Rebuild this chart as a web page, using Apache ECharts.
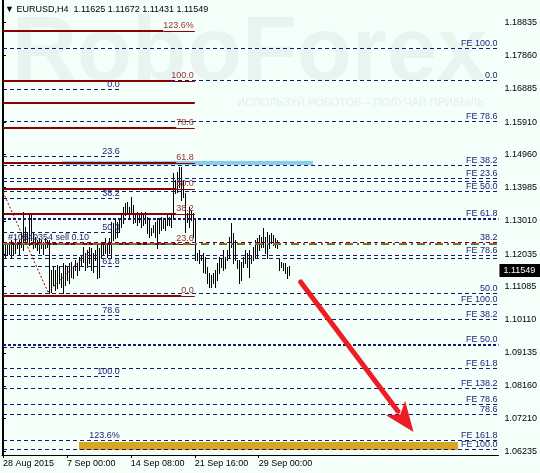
<!DOCTYPE html>
<html><head><meta charset="utf-8">
<script src="https://cdn.jsdelivr.net/npm/echarts@6/dist/echarts.min.js"></script>
<style>html,body{margin:0;padding:0;background:#F5FFFA;}#c{width:540px;height:473px;}</style>
</head><body><div id="c"></div>
<script>
// ---------------- data ----------------
const headerText = '\u25BC EURUSD,H4  1.11625 1.11672 1.11431 1.11549';
const lastClose = 1.11549;
const barHigh = [
1.1230,1.1236,1.1236,1.1239,1.1245,1.1236,1.1251,1.1239,1.1245,1.1268,
1.1327,1.1283,1.1268,1.1318,1.1324,1.1268,1.1253,1.1245,1.1251,1.1245,
1.1239,1.1251,1.1245,1.1245,1.1157,1.1165,1.1157,1.1171,1.1165,1.1148,
1.1177,1.1171,1.1165,1.1177,1.1180,1.1165,1.1186,1.1177,1.1195,1.1201,
1.1224,1.1207,1.1215,1.1224,1.1221,1.1207,1.1215,1.1230,1.1221,1.1230,
1.1239,1.1251,1.1236,1.1251,1.1298,1.1295,1.1304,1.1298,1.1309,1.1324,
1.1342,1.1354,1.1357,1.1342,1.1371,1.1348,1.1324,1.1327,1.1324,1.1327,
1.1318,1.1327,1.1312,1.1304,1.1280,1.1289,1.1298,1.1309,1.1304,1.1312,
1.1309,1.1304,1.1318,1.1312,1.1324,1.1442,1.1421,1.1444,1.1459,1.1459,
1.1421,1.1383,1.1324,1.1342,1.1333,1.1324,1.1304,1.1207,1.1215,1.1201,
1.1207,1.1195,1.1165,1.1148,1.1142,1.1148,1.1157,1.1177,1.1195,1.1192,
1.1215,1.1195,1.1215,1.1253,1.1295,1.1265,1.1245,1.1186,1.1186,1.1180,
1.1195,1.1215,1.1207,1.1215,1.1201,1.1224,1.1245,1.1251,1.1259,1.1253,
1.1280,1.1253,1.1268,1.1259,1.1265,1.1259,1.1251,1.1245,1.1192,1.1180,
1.1177,1.1177,1.1165,1.1167];
const barLow = [
1.1157,1.1192,1.1201,1.1204,1.1195,1.1204,1.1207,1.1222,1.1201,1.1224,
1.1215,1.1239,1.1236,1.1230,1.1245,1.1221,1.1224,1.1215,1.1207,1.1221,
1.1204,1.1221,1.1224,1.1089,1.1092,1.1113,1.1098,1.1104,1.1118,1.1107,
1.1089,1.1113,1.1127,1.1118,1.1136,1.1133,1.1157,1.1142,1.1157,1.1171,
1.1180,1.1157,1.1165,1.1177,1.1157,1.1151,1.1186,1.1133,1.1136,1.1192,
1.1201,1.1207,1.1195,1.1207,1.1195,1.1245,1.1251,1.1253,1.1268,1.1283,
1.1295,1.1318,1.1324,1.1312,1.1324,1.1295,1.1298,1.1289,1.1298,1.1283,
1.1289,1.1295,1.1265,1.1253,1.1259,1.1268,1.1253,1.1221,1.1265,1.1274,
1.1280,1.1274,1.1289,1.1289,1.1283,1.1309,1.1383,1.1386,1.1400,1.1362,
1.1371,1.1268,1.1298,1.1283,1.1304,1.1253,1.1186,1.1186,1.1177,1.1186,
1.1151,1.1148,1.1118,1.1107,1.1107,1.1118,1.1107,1.1127,1.1148,1.1165,
1.1157,1.1163,1.1186,1.1195,1.1224,1.1177,1.1186,1.1163,1.1118,1.1127,
1.1165,1.1177,1.1165,1.1136,1.1177,1.1186,1.1195,1.1195,1.1215,1.1224,
1.1224,1.1207,1.1192,1.1221,1.1236,1.1230,1.1224,1.1221,1.1157,1.1165,
1.1157,1.1148,1.1133,1.1143];
const timeTickIndex = [0, 32, 64, 96, 128];
const timeTickLabels = ['28 Aug 2015', '7 Sep 00:00', '14 Sep 08:00', '21 Sep 16:00', '29 Sep 00:00'];
const priceTicks = [1.18835,1.17860,1.16885,1.15910,1.14960,1.13985,1.13010,1.12035,1.11085,1.10110,1.09135,1.08160,1.07210,1.06235];

const redFibLabels = ['123.6%','100.0','','78.6','61.8','50.0','38.2','23.6','0.0'];
const redFibPrices = [1.18586,1.17117,1.16471,1.15737,1.14709,1.13945,1.13211,1.12330,1.10803];
const blueFibLabels = ['0.0','23.6','38.2','50.0','61.8','78.6','','100.0','123.6%'];
const blueFibPrices = [1.16853,1.14885,1.13652,1.12653,1.11655,1.10215,1.09276,1.08424,1.06544];
const feLabels = ['FE 100.0','0.0','FE 78.6','FE 38.2','FE 23.6','','FE 50.0','FE 61.8','38.2','FE 78.6','',
                  '50.0','FE 100.0','FE 38.2','FE 50.0','FE 61.8','FE 138.2','FE 78.6','78.6','FE 161.8','FE 100.0'];
const fePrices = [1.18057,1.17117,1.15913,1.14621,1.14239,1.14151,1.13857,1.13064,1.12359,1.11977,1.11889,
                  1.10868,1.10538,1.10098,1.09363,1.08659,1.08071,1.07601,1.07308,1.06544,1.06280];
const orderPrice = 1.1235;
const orderText = '#10840354 sell 0.10';
// zones: [fromBar, toBar, topPrice, bottomPrice]
const blueZone = [29.5, 155, 1.14753, 1.14636];
const goldZone = [38, 227.5, 1.06515, 1.06279];
// dotted trend lines [bar, price, bar, price]
const trendLines = [[0, 1.13857, 22.5, 1.10920], [22.5, 1.10920, 43.5, 1.12124]];
// forecast arrow [bar, price, bar, price]
const arrowLine = [149, 1.11214, 205.5, 1.06808];

// ---------------- style / layout ----------------
const FONT = '"Liberation Sans", Arial, sans-serif';
const NAVY = '#191970';
const MAROON = '#8B0000';
const REDFIB_END = 96, BLUEFIB_END = 58.5;
const FE_BOLD = [7, 14];
const mctx = document.createElement('canvas').getContext('2d');
mctx.font = '9px ' + FONT;
const tw = s => mctx.measureText(s).width;

function levelSeries(prices, labels, cfg) {
  return {
    type: 'custom', z: cfg.z, silent: true, clip: false,
    encode: {x: 0, y: 1},
    data: prices.map((p, i) => [i, p]),
    renderItem(params, api) {
      const cs = params.coordSys;
      const i = api.value(0), p = api.value(1);
      const yr = api.coord([0, p])[1];
      const x0 = cs.x + 1;
      const x1 = cfg.to == null ? cs.x + cs.width : api.coord([cfg.to, p])[0];
      const label = labels[i];
      const ch = [];
      if (cfg.solid) {
        const y = Math.round(yr);
        const w = label ? tw(label) + 1 : 0;
        ch.push({type: 'line', shape: {x1: x0, y1: y, x2: x1 - w, y2: y}, style: {stroke: cfg.color, lineWidth: 2}});
        if (label) ch.push({type: 'line', shape: {x1: x1 - w, y1: y + 0.5, x2: x1, y2: y + 0.5}, style: {stroke: cfg.color, lineWidth: 1}});
      } else if (cfg.bold && cfg.bold.includes(i)) {
        const y = Math.round(yr);
        ch.push({type: 'line', shape: {x1: x0, y1: y, x2: x1, y2: y}, style: {stroke: cfg.color, lineWidth: 2, lineDash: [3, 2]}});
      } else {
        const y = Math.floor(yr) + 0.5;
        ch.push({type: 'line', shape: {x1: x0, y1: y, x2: x1, y2: y}, style: {stroke: cfg.color, lineWidth: 1, lineDash: [4, 3]}});
      }
      if (label) ch.push({type: 'text', x: x1 - cfg.inset, y: Math.round(yr) - 1,
        style: {text: label, fill: cfg.labelColor, font: '9px ' + FONT, align: 'right', verticalAlign: 'bottom'}});
      return {type: 'group', children: ch};
    }
  };
}

const option = {
  backgroundColor: '#F5FFFA',
  animation: false,
  grid: {left: 2, right: 41, top: 0, bottom: 18, containLabel: false},
  xAxis: {
    type: 'value', min: -0.5, max: 248,
    axisLine: {show: true, lineStyle: {color: '#000', width: 1}},
    axisTick: {show: true, length: 3, customValues: timeTickIndex, lineStyle: {color: '#000'}},
    axisLabel: {customValues: timeTickIndex, formatter: v => timeTickLabels[timeTickIndex.indexOf(v)] || '',
      align: 'left', margin: 4, color: '#000', fontSize: 9, fontFamily: FONT},
    splitLine: {show: false}
  },
  yAxis: [{
    type: 'value', min: 1.06132, max: 1.19496, position: 'right',
    axisLine: {show: true, lineStyle: {color: '#000', width: 1}},
    axisTick: {show: true, length: 3, customValues: priceTicks, lineStyle: {color: '#000'}},
    axisLabel: {customValues: priceTicks, formatter: v => v.toFixed(5), margin: 6, color: '#000', fontSize: 9, fontFamily: FONT},
    splitLine: {show: false}
  }, {
    type: 'value', min: 1.06132, max: 1.19496, position: 'left',
    axisLine: {show: true, onZero: false, lineStyle: {color: '#000', width: 1}},
    axisTick: {show: false}, axisLabel: {show: false}, splitLine: {show: false}
  }],
  graphic: [
    {type: 'text', left: 12, top: 10, z: -10, silent: true,
      style: {text: 'RoboForex', font: 'bold 90px ' + FONT, fill: '#E9F4F0'}},
    {type: 'text', left: 237, top: 97, z: -10, silent: true,
      style: {text: 'ИСПОЛЬЗУЙ РОБОТОВ – ПОЛУЧАЙ ПРИБЫЛЬ', font: '11px ' + FONT, fill: '#E4EEEA'}},
    {type: 'text', left: 5, top: 5, z: 100, silent: true,
      style: {text: headerText, font: '9px ' + FONT, fill: '#000'}}
  ],
  series: [
    {type: 'custom', z: 1, silent: true, encode: {x: [0, 1], y: [2, 3]},
      data: [blueZone, goldZone],
      renderItem(params, api) {
        const a = api.coord([api.value(0), api.value(2)]);
        const b = api.coord([api.value(1), api.value(3)]);
        return {type: 'rect', shape: {x: Math.round(a[0]), y: Math.round(a[1]), width: Math.round(b[0] - a[0]), height: Math.max(2, Math.round(b[1] - a[1]))},
          style: {fill: params.dataIndex === 0 ? '#87CEEB' : '#DAA520'}};
      }},
    {type: 'custom', z: 2, silent: true, encode: {x: 0, y: [1, 2]},
      data: barHigh.map((h, i) => [i, h, barLow[i]]),
      renderItem(params, api) {
        const ph = api.coord([api.value(0), api.value(1)]);
        const pl = api.coord([api.value(0), api.value(2)]);
        const x = Math.round(ph[0]) + 0.5;
        return {type: 'line', shape: {x1: x, y1: Math.round(ph[1]), x2: x, y2: Math.round(pl[1]) + 1},
          style: {stroke: '#000', lineWidth: 1}};
      }},
    levelSeries(fePrices, feLabels, {z: 4, color: NAVY, labelColor: '#23237a', bold: FE_BOLD, inset: 1}),
    levelSeries(blueFibPrices, blueFibLabels, {z: 4, color: NAVY, labelColor: '#23237a', to: BLUEFIB_END, inset: 0}),
    levelSeries(redFibPrices, redFibLabels, {z: 5, color: MAROON, labelColor: '#9a3030', solid: true, to: REDFIB_END, inset: 1}),
    {type: 'custom', z: 6, silent: true, clip: false, encode: {x: 0, y: 1},
      data: [[0, orderPrice]],
      renderItem(params, api) {
        const cs = params.coordSys;
        const y = Math.floor(api.coord([0, api.value(1)])[1]) + 0.5;
        return {type: 'group', children: [
          {type: 'line', shape: {x1: cs.x + 1, y1: y, x2: cs.x + cs.width, y2: y}, style: {stroke: '#FF4500', lineWidth: 1, lineDash: [8, 4, 2, 4]}},
          {type: 'line', shape: {x1: cs.x + 1, y1: y + 1, x2: cs.x + cs.width, y2: y + 1}, style: {stroke: '#2E8B20', lineWidth: 1, lineDash: [8, 4, 2, 4]}},
          {type: 'text', x: cs.x + 6, y: y - 1.5, style: {text: orderText, fill: '#2a2060', font: '9px ' + FONT, align: 'left', verticalAlign: 'bottom'}}
        ]};
      }},
    {type: 'custom', z: 6, silent: true, encode: {x: [0, 2], y: [1, 3]},
      data: trendLines,
      renderItem(params, api) {
        const a = api.coord([api.value(0), api.value(1)]);
        const b = api.coord([api.value(2), api.value(3)]);
        return {type: 'line', shape: {x1: a[0], y1: a[1], x2: b[0], y2: b[1]}, style: {stroke: MAROON, lineWidth: 1, lineDash: [2, 2]}};
      }},
    {type: 'custom', z: 8, silent: true, clip: false, encode: {x: [0, 2], y: [1, 3]},
      data: [arrowLine],
      renderItem(params, api) {
        const a = api.coord([api.value(0), api.value(1)]);
        const b = api.coord([api.value(2), api.value(3)]);
        const dx = b[0] - a[0], dy = b[1] - a[1], L = Math.hypot(dx, dy);
        const ux = dx / L, uy = dy / L, hl = 30, hw = 12;
        const bx = b[0] - ux * hl, by = b[1] - uy * hl;
        return {type: 'group', children: [
          {type: 'line', shape: {x1: a[0], y1: a[1], x2: bx + ux * 4, y2: by + uy * 4}, style: {stroke: '#EE1C25', lineWidth: 5, lineCap: 'round'}},
          {type: 'polygon', shape: {points: [[b[0], b[1]], [bx - uy * hw, by + ux * hw], [bx + ux * 8, by + uy * 8], [bx + uy * hw, by - ux * hw]]}, style: {fill: '#EE1C25'}}
        ]};
      }},
    {type: 'custom', z: 20, silent: true, clip: false, encode: {x: 0, y: 1},
      data: [[barHigh.length - 1, lastClose]],
      renderItem(params, api) {
        const cs = params.coordSys;
        const y = Math.round(api.coord([0, api.value(1)])[1]);
        const x = cs.x + cs.width + 1;
        return {type: 'group', children: [
          {type: 'rect', shape: {x: x, y: y - 7, width: 540 - x, height: 13}, style: {fill: '#000'}},
          {type: 'text', x: x + 4, y: y, style: {text: lastClose.toFixed(5), fill: '#fff', font: '9px ' + FONT, align: 'left', verticalAlign: 'middle'}}
        ]};
      }}
  ]
};
const chart = echarts.init(document.getElementById('c'));
chart.setOption(option);
</script></body></html>
